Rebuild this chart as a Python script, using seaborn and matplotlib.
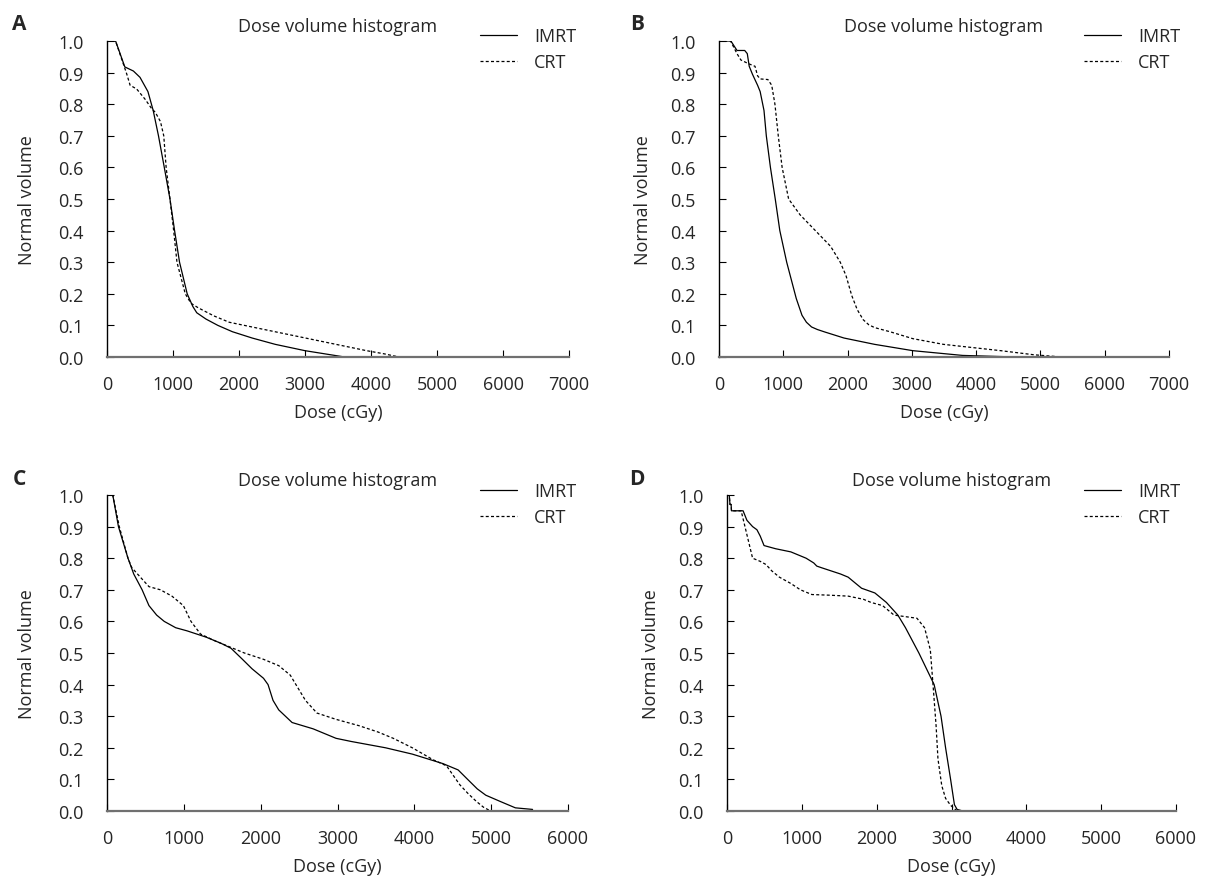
import matplotlib
matplotlib.use('Agg')
import matplotlib.pyplot as plt
import seaborn as sns
import pandas as pd

# Dose volume histograms, IMRT vs CRT, four cases (A-D)

a_imrt_dose = [0, 130, 270, 400, 500, 620, 700, 780, 868, 954, 1024, 1099, 1215, 1300, 1360, 1500, 1680, 1900, 2200, 2550, 3000, 3300, 3600]
a_imrt_vol = [1.0, 1.0, 0.918, 0.905, 0.885, 0.84, 0.78, 0.70, 0.60, 0.50, 0.40, 0.30, 0.20, 0.16, 0.14, 0.12, 0.10, 0.08, 0.06, 0.04, 0.02, 0.01, 0.0]
a_crt_dose = [0, 130, 300, 350, 450, 580, 680, 730, 810, 860, 896, 954, 1010, 1060, 1186, 1272, 1388, 1620, 1851, 2082, 2545, 3008, 3470, 3933, 4200, 4425]
a_crt_vol = [1.0, 1.0, 0.895, 0.86, 0.848, 0.815, 0.785, 0.775, 0.745, 0.70, 0.60, 0.50, 0.40, 0.30, 0.20, 0.17, 0.155, 0.13, 0.11, 0.10, 0.08, 0.06, 0.04, 0.02, 0.01, 0.0]

b_imrt_dose = [0, 185, 280, 400, 440, 470, 520, 600, 640, 700, 736, 800, 875, 946, 1053, 1202, 1291, 1360, 1440, 1530, 1648, 1945, 2421, 3016, 3789, 4622]
b_imrt_vol = [1.0, 1.0, 0.97, 0.97, 0.96, 0.92, 0.895, 0.86, 0.84, 0.78, 0.70, 0.60, 0.50, 0.40, 0.30, 0.185, 0.132, 0.11, 0.095, 0.087, 0.079, 0.06, 0.04, 0.02, 0.005, 0.0]
b_crt_dose = [0, 180, 280, 340, 460, 560, 600, 640, 760, 820, 870, 922, 982, 1083, 1261, 1499, 1737, 1886, 1975, 2064, 2150, 2243, 2330, 2421, 2659, 3016, 3492, 4384, 4900, 5336]
b_crt_vol = [1.0, 1.0, 0.96, 0.94, 0.928, 0.92, 0.89, 0.88, 0.878, 0.86, 0.80, 0.70, 0.60, 0.50, 0.45, 0.40, 0.35, 0.30, 0.258, 0.195, 0.15, 0.118, 0.102, 0.093, 0.08, 0.058, 0.04, 0.02, 0.007, 0.0]

c_imrt_dose = [0, 75, 149, 273, 348, 457, 546, 646, 745, 894, 1043, 1292, 1490, 1614, 1763, 1888, 2037, 2096, 2161, 2235, 2409, 2683, 2981, 3179, 3626, 3974, 4372, 4570, 4694, 4819, 4930, 5120, 5315, 5539]
c_imrt_vol = [1.0, 1.0, 0.9, 0.8, 0.75, 0.70, 0.65, 0.62, 0.60, 0.58, 0.57, 0.55, 0.53, 0.515, 0.48, 0.45, 0.42, 0.40, 0.35, 0.32, 0.28, 0.26, 0.23, 0.22, 0.20, 0.18, 0.15, 0.13, 0.10, 0.07, 0.05, 0.03, 0.01, 0.005]
c_crt_dose = [0, 75, 160, 273, 323, 397, 546, 695, 845, 994, 1093, 1217, 1391, 1590, 1788, 2037, 2235, 2385, 2459, 2583, 2732, 2981, 3279, 3527, 3726, 3974, 4245, 4419, 4592, 4700, 4809, 4900, 4993, 5539]
c_crt_vol = [1.0, 1.0, 0.9, 0.8, 0.77, 0.75, 0.71, 0.70, 0.68, 0.65, 0.60, 0.56, 0.54, 0.52, 0.50, 0.48, 0.46, 0.43, 0.40, 0.35, 0.31, 0.29, 0.27, 0.25, 0.23, 0.20, 0.162, 0.143, 0.083, 0.055, 0.03, 0.012, 0.0, 0.0]

d_imrt_dose = [0, 30, 40, 55, 60, 215, 266, 342, 400, 444, 495, 649, 853, 1057, 1159, 1200, 1261, 1517, 1619, 1721, 1798, 1976, 2130, 2283, 2385, 2564, 2666, 2768, 2860, 2921, 2988, 3039, 3075, 3151, 5551]
d_imrt_vol = [1.0, 1.0, 0.97, 0.97, 0.95, 0.95, 0.92, 0.90, 0.89, 0.87, 0.84, 0.83, 0.82, 0.80, 0.785, 0.775, 0.77, 0.75, 0.74, 0.72, 0.705, 0.69, 0.66, 0.62, 0.58, 0.50, 0.45, 0.40, 0.30, 0.20, 0.10, 0.02, 0.005, 0.0, 0.0]
d_crt_dose = [0, 30, 40, 55, 60, 189, 240, 291, 342, 444, 521, 598, 700, 853, 981, 1134, 1364, 1619, 1823, 1925, 2079, 2232, 2385, 2538, 2640, 2717, 2753, 2794, 2819, 2870, 2921, 2988, 3075]
d_crt_vol = [1.0, 1.0, 0.97, 0.97, 0.95, 0.95, 0.90, 0.85, 0.80, 0.79, 0.78, 0.76, 0.74, 0.72, 0.70, 0.685, 0.683, 0.68, 0.67, 0.66, 0.65, 0.62, 0.615, 0.61, 0.58, 0.51, 0.40, 0.27, 0.165, 0.08, 0.04, 0.018, 0.0]

panel_letters = ['A', 'B', 'C', 'D']
x_max = [7000, 7000, 6000, 6000]
series_names = ['IMRT', 'CRT']

sns.set_style('ticks')
plt.rcParams['font.family'] = ['Open Sans', 'DejaVu Sans']
plt.rcParams['font.size'] = 13

W, H = 1216, 879
fig = plt.figure(figsize=(W / 100, H / 100), dpi=100)

# axes boxes in pixels: left, right, top(1.0), bottom(0.0)
boxes = [(107, 569, 42, 358), (719, 1169, 42, 358), (107, 568, 496, 812), (727, 1176, 496, 812)]
legend_pos = [(480, 28), (1084, 28), (480, 483), (1084, 483)]
letter_pos = [(19, 25), (637, 25), (19, 480), (637, 480)]
ylabel_pad = [16, 13, 16, 13]

data = [
    (a_imrt_dose, a_imrt_vol, a_crt_dose, a_crt_vol),
    (b_imrt_dose, b_imrt_vol, b_crt_dose, b_crt_vol),
    (c_imrt_dose, c_imrt_vol, c_crt_dose, c_crt_vol),
    (d_imrt_dose, d_imrt_vol, d_crt_dose, d_crt_vol),
]

for i, (idose, ivol, cdose, cvol) in enumerate(data):
    l, r, t, b = boxes[i]
    ax = fig.add_axes([l / W, 1 - b / H, (r - l) / W, (b - t) / H])

    imrt = pd.DataFrame({'dose': idose, 'vol': ivol})
    crt = pd.DataFrame({'dose': cdose, 'vol': cvol})
    sns.lineplot(data=imrt, x='dose', y='vol', ax=ax, color='black', lw=0.9,
                 sort=False, estimator=None, label=series_names[0])
    sns.lineplot(data=crt, x='dose', y='vol', ax=ax, color='black', lw=0.9,
                 linestyle=(0, (2.4, 1.8)), sort=False, estimator=None, label=series_names[1])

    ax.set_xlim(0, x_max[i])
    ax.set_ylim(0, 1.0)
    ax.set_xticks(range(0, x_max[i] + 1, 1000))
    ax.set_yticks([k / 10 for k in range(11)])
    ax.set_yticklabels([f'{k / 10:.1f}' for k in range(11)])
    ax.spines['top'].set_visible(False)
    ax.spines['right'].set_visible(False)
    ax.spines['bottom'].set_color('#707070')
    ax.spines['bottom'].set_linewidth(1.6)
    ax.spines['left'].set_color('black')
    ax.spines['left'].set_linewidth(1.0)
    ax.tick_params(axis='x', direction='in', length=5, width=0.8, color='black', pad=13, labelsize=13)
    ax.tick_params(axis='y', direction='in', length=5, width=0.8, color='black', pad=17, labelsize=13)

    ax.set_xlabel('Dose (cGy)', fontsize=13, labelpad=7)
    ax.set_ylabel('Normal volume', fontsize=13, labelpad=ylabel_pad[i])
    ax.set_title('Dose volume histogram', fontsize=13, pad=7.5)

    lx, ly = legend_pos[i]
    ax.legend(loc='upper left', bbox_to_anchor=(lx / W, 1 - ly / H), bbox_transform=fig.transFigure,
              frameon=False, borderpad=0, borderaxespad=0, handlelength=2.05,
              handletextpad=0.94, labelspacing=0.47, fontsize=13)

    px, py = letter_pos[i]
    fig.text(px / W, 1 - py / H, panel_letters[i], ha='center', va='center',
             fontsize=15, fontweight='bold')

fig.savefig('out.png', dpi=100)
